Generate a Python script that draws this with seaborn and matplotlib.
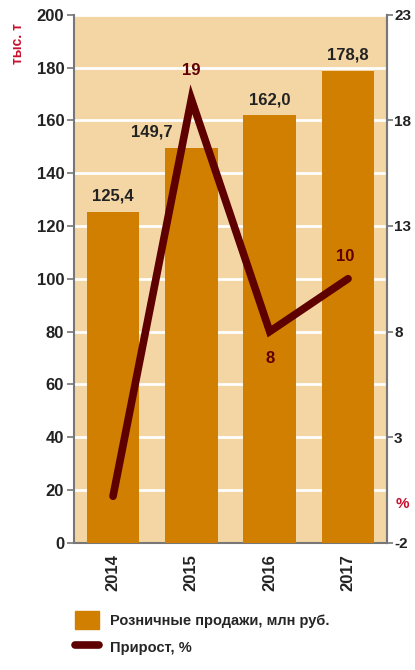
import pandas as pd
import matplotlib.pyplot as plt
import seaborn as sns
from matplotlib.patches import Patch
from matplotlib.lines import Line2D

# Данные
years = ["2014", "2015", "2016", "2017"]
sales = [125.4, 149.7, 162.0, 178.8]
sales_labels = ["125,4", "149,7", "162,0", "178,8"]
growth = [0.2, 19, 8, 10.5]
growth_labels = ["", "19", "8", "10"]

BG = "#F3D6A4"
BAR = "#D07F00"
LINE = "#5E0000"
RED = "#C8102E"
TXT = "#222222"

sns.set_style("white")
plt.rcParams['font.family'] = ['Liberation Sans', 'DejaVu Sans']
plt.rcParams['font.weight'] = 'bold'
plt.rcParams['axes.unicode_minus'] = False

df = pd.DataFrame({"year": years, "sales": sales})

fig = plt.figure(figsize=(4.15, 6.7), dpi=100)
ax = fig.add_axes([0.178, 0.19, 0.755, 0.788])
ax.set_facecolor(BG)

sns.barplot(data=df, x="year", y="sales", color=BAR, saturation=1, width=0.67,
            edgecolor=BAR, linewidth=0, ax=ax, zorder=3)
ax.set_ylim(0, 200)
ax.set_xlim(-0.5, 3.5)
ax.set_yticks(range(0, 201, 20))
ax.yaxis.grid(True, color="white", linewidth=2, zorder=1)
ax.set_axisbelow(True)
ax.set_xlabel("")
ax.set_ylabel("")

# подпись 2015 сдвинута влево, чтобы линия её не закрывала
label_dx = [0, -0.5, 0, 0]
for i, (v, lab) in enumerate(zip(sales, sales_labels)):
    ax.text(i + label_dx[i], v + 3, lab, ha="center", va="bottom", fontsize=12,
            color=TXT, fontweight="bold", zorder=5)

# подписи лет по центрам, засечки на границах
ax.set_xticks(range(4))
ax.set_xticklabels(years, rotation=90, fontsize=12, color=TXT, fontweight="bold")
ax.tick_params(axis="x", length=0, pad=8)
ax.set_xticks([-0.5, 0.5, 1.5, 2.5, 3.5], minor=True)
ax.tick_params(axis="x", which="minor", length=5, color="#777777", width=1.2)
ax.tick_params(axis="y", length=5, color="#777777", width=1.2, labelsize=12, labelcolor=TXT, pad=2)

ax.spines["top"].set_visible(False)
for s in ["left", "bottom", "right"]:
    ax.spines[s].set_color("#777777")
    ax.spines[s].set_linewidth(1.5)

# прирост на второй оси
ax2 = ax.twinx()
sns.lineplot(x=list(range(len(years))), y=growth, ax=ax2, color=LINE, linewidth=5.5,
             solid_capstyle="round", solid_joinstyle="miter", zorder=6)
ax2.set_ylim(-2, 23)
ax2.set_xlim(-0.5, 3.5)
ax2.set_yticks([-2, 3, 8, 13, 18, 23])
ax2.tick_params(axis="y", length=4, color="#777777", width=1.2, labelsize=11, labelcolor=TXT, pad=1)
ax2.spines["top"].set_visible(False)
ax2.spines["right"].set_color("#777777")
ax2.spines["right"].set_linewidth(1.5)
ax2.spines["left"].set_visible(False)
ax2.spines["bottom"].set_visible(False)

ax2.text(1, growth[1] + 1.0, growth_labels[1], ha="center", va="bottom", fontsize=12, color=LINE, fontweight="bold")
ax2.text(2, growth[2] - 0.9, growth_labels[2], ha="center", va="top", fontsize=12, color=LINE, fontweight="bold")
ax2.text(2.97, growth[3] + 0.7, growth_labels[3], ha="center", va="bottom", fontsize=12, color=LINE, fontweight="bold")

# единицы
fig.text(0.043, 0.935, "тыс. т", rotation=90, ha="center", va="center", fontsize=10, color=RED, fontweight="bold")
fig.text(0.97, 0.248, "%", ha="center", va="center", fontsize=11, color=RED, fontweight="bold")

# легенда
handles = [Patch(facecolor=BAR, edgecolor=BAR),
           Line2D([0], [0], color=LINE, linewidth=5.5, solid_capstyle="round")]
fig.legend(handles, ["Розничные продажи, млн руб.", "Прирост, %"],
           loc="lower left", bbox_to_anchor=(0.15, 0.0), frameon=False,
           handlelength=1.6, handleheight=1.6, labelspacing=0.6,
           prop={"weight": "bold", "size": 10.5})

fig.savefig("out.png", dpi=100)
